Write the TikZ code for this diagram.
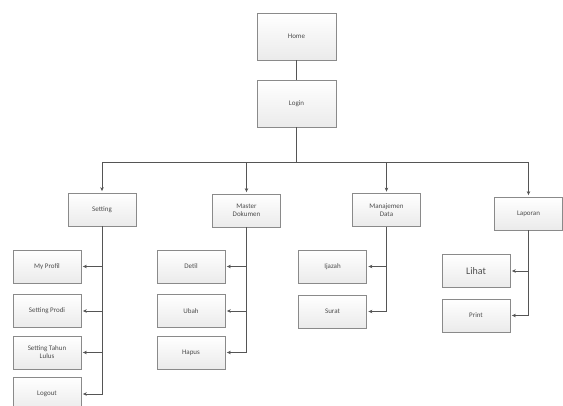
\documentclass[tikz,border=0pt]{standalone}
\usepackage{fontspec}
\setmainfont{Carlito}
\usetikzlibrary{arrows.meta}
\definecolor{boxline}{HTML}{8A8A8A}
\definecolor{wire}{HTML}{555555}
\tikzset{
  menubox/.style={draw=boxline, line width=0.8pt, top color=white, bottom color=black!8,
    align=center, inner sep=1pt, font=\fontsize{7}{8}\selectfont, text=black!70},
  wide/.style={menubox, minimum width=79pt, minimum height=47pt},
  item/.style={menubox, minimum width=68pt, minimum height=33pt},
  link/.style={draw=wire, line width=0.7pt},
  arr/.style={link, -{Stealth[length=4pt,width=3.5pt]}, shorten >=1.5pt}
}
\begin{document}
\begin{tikzpicture}[x=1pt,y=-1pt]
\useasboundingbox[fill=white] (0,0) rectangle (563,406);

% top of the menu tree
\node[wide] (home)  at (296.5,36.5)  {Home};
\node[wide] (login) at (296.5,103.5) {Login};

% main menu entries
\node[item] (setting) at (102,209.5)   {Setting};
\node[item] (master)  at (246.5,210.5) {Master\\Dokumen};
\node[item] (manaj)   at (386.5,210)   {Manajemen\\Data};
\node[item] (laporan) at (528.5,213.5) {Laporan};

% sub menu of Setting
\node[item] (profil) at (47,266.5) {My Profil};
\node[item] (prodi)  at (47,311)   {Setting Prodi};
\node[item] (tahun)  at (47,352.5) {Setting Tahun\\Lulus};
\node[item] (logout) at (47,394)   {Logout};

% sub menu of Master Dokumen
\node[item] (detil) at (191,266.5) {Detil};
\node[item] (ubah)  at (191,311)   {Ubah};
\node[item] (hapus) at (191,352.5) {Hapus};

% sub menu of Manajemen Data
\node[item] (ijazah) at (332.5,266.5) {Ijazah};
\node[item] (surat)  at (332.5,311.5) {Surat};

% sub menu of Laporan
\node[item, font=\fontsize{10}{11}\selectfont] (lihat) at (476,271) {Lihat};
\node[item] (print) at (476,315.5) {Print};

% connectors
\coordinate (bus) at (296.5,162);
\draw[link] (home) -- (login);
\draw[link] (login) -- (bus);
\draw[arr] (bus) -| (setting.north);
\draw[arr] (bus) -| (master.north);
\draw[arr] (bus) -| (manaj.north);
\draw[arr] (bus) -| (laporan.north);

\foreach \c in {profil,prodi,tahun,logout}
  \draw[arr] (setting.south) |- (\c.east);
\foreach \c in {detil,ubah,hapus}
  \draw[arr] (master.south) |- (\c.east);
\foreach \c in {ijazah,surat}
  \draw[arr] (manaj.south) |- (\c.east);
\foreach \c in {lihat,print}
  \draw[arr] (laporan.south) |- (\c.east);
\end{tikzpicture}
\end{document}
